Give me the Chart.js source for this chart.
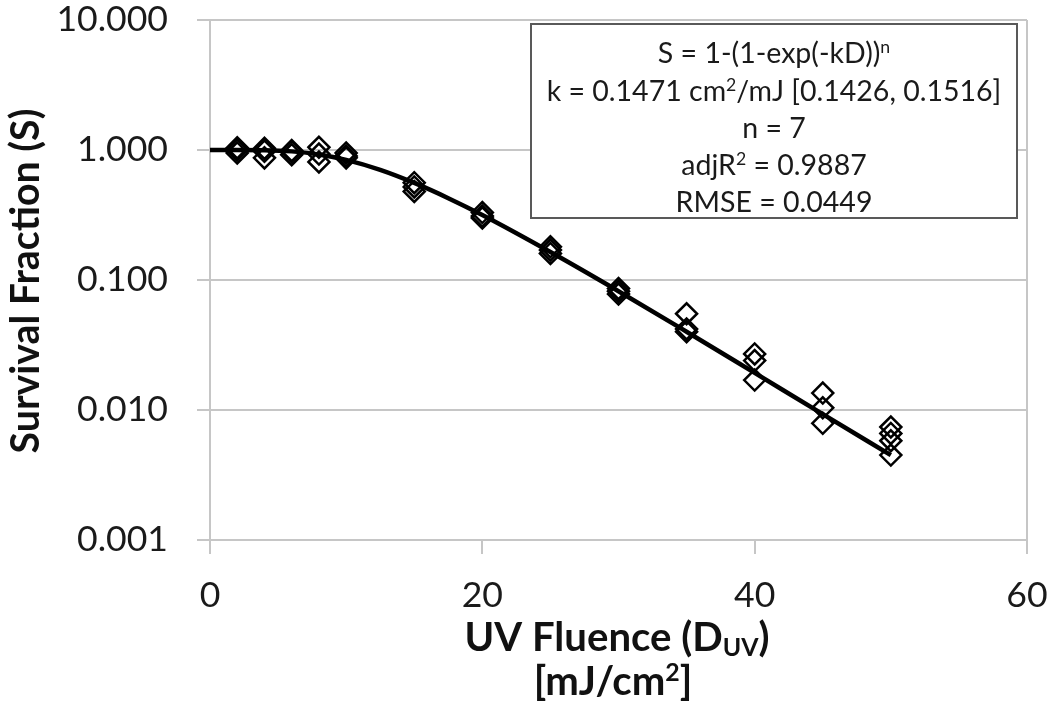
<!DOCTYPE html>
<html>
<head>
<meta charset="utf-8">
<script src="https://cdn.jsdelivr.net/npm/chart.js@4/dist/chart.umd.min.js"></script>
<style>
html,body{margin:0;padding:0;background:#fff;}
#wrap{width:1050px;height:712px;position:relative;}
</style>
</head>
<body>
<div id="wrap"><canvas id="c" width="1050" height="712"></canvas></div>
<script>
// ---- Data ----
const doses = [2, 4, 6, 8, 10, 15, 20, 25, 30, 35, 40, 45, 50];
const rep1 = [1.04, 1.03, 0.99, 1.05, 0.95, 0.56, 0.33, 0.18, 0.086, 0.055, 0.027, 0.0135, 0.0074];
const rep2 = [1.00, 0.98, 0.97, 0.93, 0.90, 0.52, 0.31, 0.17, 0.082, 0.042, 0.024, 0.0104, 0.0066];
const rep3 = [0.95, 0.87, 0.92, 0.81, 0.87, 0.48, 0.30, 0.16, 0.078, 0.040, 0.017, 0.0079, 0.0058];
const extraDoses = [50];
const extraS = [0.0045];

const fitDose = [0, 2, 4, 6, 8, 10, 12.5, 15, 17.5, 20, 25, 30, 35, 40, 45, 50];
const fitS = [1.0, 1.0, 0.997, 0.976, 0.924, 0.839, 0.703, 0.558, 0.426, 0.316, 0.164, 0.082, 0.040, 0.0193, 0.0093, 0.0045];

const yTickValues = [0.001, 0.01, 0.1, 1, 10];
const yTickLabels = ['0.001', '0.010', '0.100', '1.000', '10.000'];
const xTickValues = [0, 20, 40, 60];

const yTitle = 'Survival Fraction (S)';
const xTitle1 = [{t: 'UV Fluence (D'}, {t: 'UV', sub: true}, {t: ')'}];
const xTitle2 = [{t: '[mJ/cm'}, {t: '2', sup: true}, {t: ']'}];
const boxLines = [
  [{t: 'S = 1-(1-exp(-kD))'}, {t: 'n', sup: true}],
  [{t: 'k = 0.1471 cm'}, {t: '2', sup: true}, {t: '/mJ [0.1426, 0.1516]'}],
  [{t: 'n = 7'}],
  [{t: 'adjR'}, {t: '2', sup: true}, {t: ' = 0.9887'}],
  [{t: 'RMSE = 0.0449'}]
];

// ---- helpers ----
const FONT = 'Lato';
const meas = document.createElement('canvas').getContext('2d');
function fitSize(text, target, weight) {
  meas.font = (weight || 'normal') + ' 100px ' + FONT;
  return 100 * target / meas.measureText(text).width;
}
function richWidth(ctx, segs, size, weight) {
  let w = 0;
  for (const s of segs) {
    const fs = (s.sup || s.sub) ? size * 0.62 : size;
    ctx.font = (weight || 'normal') + ' ' + fs + 'px ' + FONT;
    w += ctx.measureText(s.t).width;
  }
  return w;
}
function fitRich(segs, target, weight) {
  return 100 * target / richWidth(meas, segs, 100, weight);
}
function drawRich(ctx, segs, cx, cy, size, weight, color) {
  const w = richWidth(ctx, segs, size, weight);
  let x = cx - w / 2;
  const base = cy + size * 0.36;
  ctx.fillStyle = color;
  ctx.textAlign = 'left';
  ctx.textBaseline = 'alphabetic';
  for (const s of segs) {
    const small = s.sup || s.sub;
    const fs = small ? size * 0.62 : size;
    ctx.font = (weight || 'normal') + ' ' + fs + 'px ' + FONT;
    let y = base;
    if (s.sup) y = base - size * 0.36;
    if (s.sub) y = base + size * 0.12;
    ctx.fillText(s.t, x, y);
    x += ctx.measureText(s.t).width;
  }
}

const tickSize = fitSize('1.000', 91, 'normal');

const scatterPts = [];
doses.forEach((d, i) => {
  scatterPts.push({x: d, y: rep1[i]});
  scatterPts.push({x: d, y: rep2[i]});
  scatterPts.push({x: d, y: rep3[i]});
});
extraDoses.forEach((d, i) => scatterPts.push({x: d, y: extraS[i]}));

const GRID = '#c6c6c6';

function noPad(s) {
  s.paddingTop = 0; s.paddingBottom = 0; s.paddingLeft = 0; s.paddingRight = 0;
}

const titlesPlugin = {
  id: 'titles',
  afterDraw(chart) {
    const ctx = chart.ctx;
    ctx.save();
    // y title
    const ys = fitSize(yTitle, 345, 'bold');
    ctx.translate(25, 281);
    ctx.rotate(-Math.PI / 2);
    drawRich(ctx, [{t: yTitle}], 0, 0, ys, 'bold', '#111');
    ctx.restore();
    ctx.save();
    // x title
    const xs = fitRich(xTitle1, 305, 'bold');
    drawRich(ctx, xTitle1, 617, 637, xs, 'bold', '#111');
    drawRich(ctx, xTitle2, 613, 681, xs, 'bold', '#111');
    // annotation box
    ctx.fillStyle = '#fff';
    ctx.fillRect(531, 24, 486, 194);
    ctx.strokeStyle = '#595959';
    ctx.lineWidth = 2;
    ctx.strokeRect(531, 24, 486, 194);
    const bs = fitRich(boxLines[1], 455, 'normal');
    const ys2 = [53, 91, 128, 165, 202];
    boxLines.forEach((l, i) => drawRich(ctx, l, 774, ys2[i], bs, 'normal', '#1a1a1a'));
    ctx.restore();
  }
};

new Chart(document.getElementById('c').getContext('2d'), {
  type: 'scatter',
  data: {
    datasets: [
      {
        type: 'line',
        data: fitDose.map((x, i) => ({x: x, y: fitS[i]})),
        borderColor: '#000',
        borderWidth: 4.5,
        pointRadius: 0,
        cubicInterpolationMode: 'monotone',
        fill: false,
        order: 0
      },
      {
        data: scatterPts,
        pointStyle: 'rectRot',
        pointRadius: 10.5,
        pointBorderWidth: 2.5,
        borderColor: '#000',
        backgroundColor: 'rgba(255,255,255,0)',
        order: 1
      }
    ]
  },
  options: {
    responsive: false,
    animation: false,
    devicePixelRatio: 1,
    layout: {padding: {top: 20, right: 23, bottom: 0, left: 0}},
    plugins: {legend: {display: false}, tooltip: {enabled: false}},
    scales: {
      x: {
        type: 'linear',
        min: 0, max: 60,
        afterFit(s) { s.height = 172; noPad(s); },
        afterBuildTicks(s) { s.ticks = xTickValues.map(v => ({value: v})); },
        ticks: {font: {family: FONT, size: tickSize}, color: '#1a1a1a', padding: 20, maxRotation: 0},
        grid: {
          color: c => (c.tick && (c.tick.value === 0 || c.tick.value === 60)) ? GRID : 'rgba(0,0,0,0)',
          lineWidth: 2,
          tickLength: 14,
          tickColor: GRID,
          drawTicks: true
        },
        border: {display: true, color: GRID, width: 2}
      },
      y: {
        type: 'logarithmic',
        min: 0.001, max: 10,
        afterFit(s) { s.width = 210; noPad(s); },
        afterBuildTicks(s) { s.ticks = yTickValues.map(v => ({value: v})); },
        ticks: {
          font: {family: FONT, size: tickSize}, color: '#1a1a1a', padding: 29,
          callback: (v, i) => yTickLabels[i]
        },
        grid: {color: GRID, lineWidth: 2, tickLength: 13, tickColor: GRID},
        border: {display: true, color: GRID, width: 2}
      }
    }
  },
  plugins: [titlesPlugin]
});
</script>
</body>
</html>
